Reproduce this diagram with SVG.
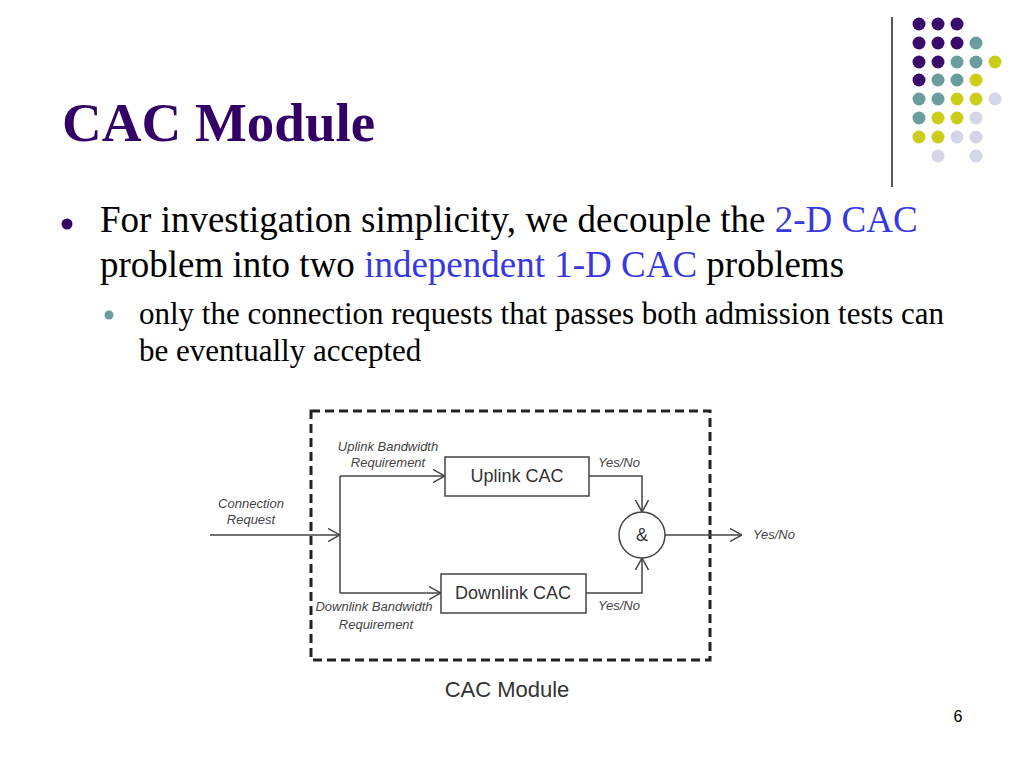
<svg xmlns="http://www.w3.org/2000/svg" width="1024" height="768" viewBox="0 0 1024 768">
<defs>
<style>
.title{font-family:"Liberation Serif","Times New Roman",serif;font-weight:bold;font-size:55px;fill:#330066}
.body{font-family:"Liberation Serif","Times New Roman",serif;font-size:37px;fill:#000}
.sub{font-family:"Liberation Serif","Times New Roman",serif;font-size:31px;fill:#000}
.hl{fill:#3838E0}
.box{fill:#fff;stroke:#444;stroke-width:1.5}
.btxt{font-family:"Liberation Sans",Arial,sans-serif;font-size:18px;fill:#333;text-anchor:middle}
.lbl{font-family:"Liberation Sans",Arial,sans-serif;font-size:13px;font-style:italic;fill:#444;text-anchor:middle}
.conn{fill:none;stroke:#444;stroke-width:1.5;marker-end:url(#chev)}
.line{fill:none;stroke:#444;stroke-width:1.5}
.p{fill:#3B0B6B}.t{fill:#6B9C9E}.y{fill:#CCCC1A}.l{fill:#D5D5E8}
</style>
<marker id="chev" viewBox="0 0 12 14" refX="12" refY="7" markerWidth="12" markerHeight="14" markerUnits="userSpaceOnUse" orient="auto">
<path d="M0,0.5 L12,7 L0,13.5" fill="none" stroke="#444" stroke-width="1.5"/>
</marker>
</defs>
<rect width="1024" height="768" fill="#fff"/>

<g id="decoration">
<line x1="892" y1="17" x2="892" y2="187" stroke="#222" stroke-width="1.5"/>
<circle class="p" cx="919" cy="24" r="6.5"/><circle class="p" cx="938" cy="24" r="6.5"/><circle class="p" cx="957" cy="24" r="6.5"/>
<circle class="p" cx="919" cy="43" r="6.5"/><circle class="p" cx="938" cy="43" r="6.5"/><circle class="p" cx="957" cy="43" r="6.5"/><circle class="t" cx="976" cy="43" r="6.5"/>
<circle class="p" cx="919" cy="62" r="6.5"/><circle class="p" cx="938" cy="62" r="6.5"/><circle class="t" cx="957" cy="62" r="6.5"/><circle class="t" cx="976" cy="62" r="6.5"/><circle class="y" cx="995" cy="62" r="6.5"/>
<circle class="p" cx="919" cy="80" r="6.5"/><circle class="t" cx="938" cy="80" r="6.5"/><circle class="t" cx="957" cy="80" r="6.5"/><circle class="y" cx="976" cy="80" r="6.5"/>
<circle class="t" cx="919" cy="99" r="6.5"/><circle class="t" cx="938" cy="99" r="6.5"/><circle class="y" cx="957" cy="99" r="6.5"/><circle class="y" cx="976" cy="99" r="6.5"/><circle class="l" cx="995" cy="99" r="6.5"/>
<circle class="t" cx="919" cy="118" r="6.5"/><circle class="y" cx="938" cy="118" r="6.5"/><circle class="y" cx="957" cy="118" r="6.5"/><circle class="l" cx="976" cy="118" r="6.5"/>
<circle class="y" cx="919" cy="137" r="6.5"/><circle class="y" cx="938" cy="137" r="6.5"/><circle class="l" cx="957" cy="137" r="6.5"/><circle class="l" cx="976" cy="137" r="6.5"/>
<circle class="l" cx="938" cy="156" r="6.5"/><circle class="l" cx="976" cy="156" r="6.5"/>
</g>

<text id="title" class="title" x="62" y="141">CAC Module</text>

<g id="bullets">
<circle cx="67" cy="224" r="5.5" fill="#330066"/>
<text class="body" x="100" y="232">For investigation simplicity, we decouple the <tspan class="hl">2-D CAC</tspan></text>
<text class="body" x="100" y="277">problem into two <tspan class="hl">independent 1-D CAC</tspan> problems</text>
<circle cx="109" cy="315" r="4.5" fill="#6B9C9E"/>
<text class="sub" x="139" y="324">only the connection requests that passes both admission tests can</text>
<text class="sub" x="139" y="361">be eventually accepted</text>
</g>

<g id="module">
<rect x="311" y="411" width="399" height="249" fill="none" stroke="#222" stroke-width="3" stroke-dasharray="9 5"/>
</g>

<g id="connectors">
<path class="conn" d="M210,535 H340"/>
<path class="line" d="M340,476 V593"/>
<path class="conn" d="M340,476 H445"/>
<path class="conn" d="M340,593 H441"/>
<path class="conn" d="M589,476 H642 V512"/>
<path class="conn" d="M586,593 H642 V558"/>
<path class="conn" d="M665,535 H742"/>
</g>

<g id="uplink">
<rect class="box" x="445" y="457" width="144" height="39"/>
<text class="btxt" x="517" y="482">Uplink CAC</text>
</g>
<g id="downlink">
<rect class="box" x="441" y="574" width="145" height="39"/>
<text class="btxt" x="513" y="599">Downlink CAC</text>
</g>
<g id="and">
<circle cx="642" cy="535" r="23" fill="#fff" stroke="#444" stroke-width="1.5"/>
<text class="btxt" x="642" y="541" font-size="17">&amp;</text>
</g>

<g id="labels">
<text class="lbl" x="388" y="451">Uplink Bandwidth</text>
<text class="lbl" x="388" y="467">Requirement</text>
<text class="lbl" x="251" y="508">Connection</text>
<text class="lbl" x="251" y="524">Request</text>
<text class="lbl" x="374" y="611">Downlink Bandwidth</text>
<text class="lbl" x="376" y="629">Requirement</text>
<text class="lbl" x="619" y="467">Yes/No</text>
<text class="lbl" x="619" y="610">Yes/No</text>
<text class="lbl" x="774" y="539">Yes/No</text>
</g>

<text id="caption" x="507" y="697" font-family="'Liberation Sans',Arial,sans-serif" font-size="22" fill="#333" text-anchor="middle">CAC Module</text>
<text id="page" x="958" y="722" font-family="'Liberation Sans',Arial,sans-serif" font-size="16" fill="#000" text-anchor="middle">6</text>
</svg>
